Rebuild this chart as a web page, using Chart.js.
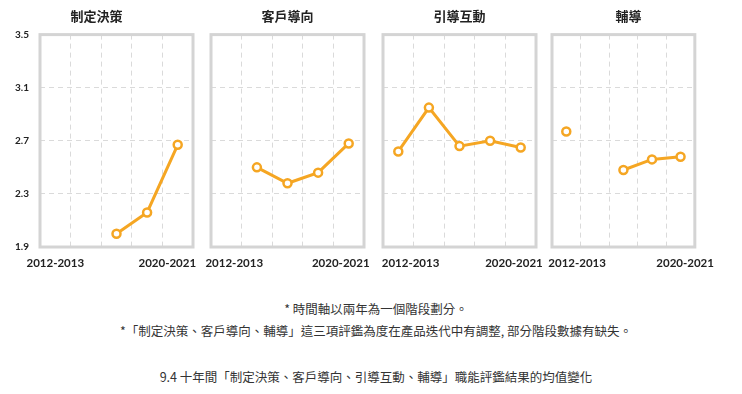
<!DOCTYPE html>
<html>
<head>
<meta charset="utf-8">
<script src="https://cdn.jsdelivr.net/npm/chart.js@4"></script>
<style>
  body { margin: 0; background: #fff; width: 742px; height: 394px; position: relative; overflow: hidden; }
  canvas { position: absolute; top: 0; }
  .note { position: absolute; left: 0; width: 752px; text-align: center; font-family: "Noto Sans CJK TC", "Noto Sans", sans-serif; font-size: 12.5px; color: #333; white-space: nowrap; }
</style>
</head>
<body>
<canvas id="c0" width="213" height="280" style="left:0px"></canvas>
<canvas id="c1" width="193" height="280" style="left:191px"></canvas>
<canvas id="c2" width="193" height="280" style="left:363px"></canvas>
<canvas id="c3" width="193" height="280" style="left:532px"></canvas>
<div class="note" style="top:299px">* 時間軸以兩年為一個階段劃分。</div>
<div class="note" style="top:321px">*「制定決策、客戶導向、輔導」這三項評鑑為度在產品迭代中有調整, 部分階段數據有缺失。</div>
<div class="note" style="top:367px">9.4 十年間「制定決策、客戶導向、引導互動、輔導」職能評鑑結果的均值變化</div>
<script>
// periods (two-year stages), only first and last are labelled
const periods = ["2012-2013", "2014-2015", "2016-2017", "2018-2019", "2020-2021"];
const titles = ["制定決策", "客戶導向", "引導互動", "輔導"];

const decisionMaking = [null, null, 2.0, 2.16, 2.67];
const customerOrientation = [null, 2.5, 2.38, 2.46, 2.68];
const guidingInteraction = [2.62, 2.95, 2.66, 2.7, 2.65];
const coaching = [2.77, null, 2.48, 2.56, 2.58];

const yTicks = [1.9, 2.3, 2.7, 3.1, 3.5];

const seriesList = [decisionMaking, customerOrientation, guidingInteraction, coaching];

// where the first / last period label sits in each panel (in column units)
const labelSpots = [[0, 3.66], [0.26, 3.74], [0.4, 3.78], [0.38, 4.16]];

const orange = "#F5A623";
const gridColor = "#dadada";

// light grey frame round the plot area
const frame = {
  id: "frame",
  beforeDatasetsDraw(chart) {
    const a = chart.chartArea;
    const ctx = chart.ctx;
    ctx.save();
    ctx.strokeStyle = "#d4d4d4";
    ctx.lineWidth = 3;
    ctx.strokeRect(a.left, a.top, a.right - a.left, a.bottom - a.top);
    ctx.restore();
  },
};

seriesList.forEach(function (values, i) {
  const first = i === 0;
  const spots = labelSpots[i];
  const ctx = document.getElementById("c" + i).getContext("2d");
  new Chart(ctx, {
    type: "line",
    data: {
      labels: periods,
      datasets: [
        {
          data: values,
          borderColor: orange,
          borderWidth: 3,
          pointRadius: 4,
          pointBorderWidth: 2.5,
          pointBackgroundColor: "#fff",
          pointBorderColor: orange,
          spanGaps: false,
          tension: 0,
        },
      ],
    },
    plugins: [frame],
    options: {
      responsive: false,
      animation: false,
      devicePixelRatio: 1,
      layout: { padding: { left: first ? 0 : 20, right: 20, top: 0, bottom: 0 } },
      plugins: {
        legend: { display: false },
        tooltip: { enabled: false },
        title: {
          display: true,
          text: titles[i],
          color: "#222",
          font: { family: "'Noto Sans CJK TC'", size: 13, weight: "bold" },
          padding: { top: 8, bottom: 11 },
        },
      },
      scales: {
        x: {
          offset: true,
          afterFit: function (s) { s.height = 0; },
          border: { display: false, dash: [5, 4] },
          grid: { offset: true, color: gridColor, drawTicks: false, lineWidth: 1 },
          ticks: { display: false },
        },
        xLabels: {
          type: "linear",
          position: "bottom",
          min: -0.5,
          max: periods.length - 0.5,
          afterFit: function (s) { s.height = 33; },
          afterBuildTicks: function (s) {
            s.ticks = spots.map(function (v) { return { value: v }; });
          },
          border: { display: false },
          grid: { display: false, drawTicks: false },
          ticks: {
            padding: 9,
            maxRotation: 0,
            autoSkip: false,
            color: "#222",
            font: { family: "Lato", size: 11.5, weight: "bold" },
            callback: function (v, idx) {
              return idx === 0 ? periods[0] : periods[periods.length - 1];
            },
          },
        },
        y: {
          min: yTicks[0],
          max: yTicks[yTicks.length - 1],
          afterFit: function (s) { s.width = first ? 40 : 0; },
          afterBuildTicks: function (s) {
            s.ticks = yTicks.map(function (v) { return { value: v }; });
          },
          border: { display: false, dash: [5, 4] },
          grid: { color: gridColor, drawTicks: false, lineWidth: 1 },
          ticks: {
            display: first,
            padding: 11,
            color: "#222",
            font: { family: "Lato", size: 10, weight: "bold" },
            callback: function (v) { return v.toFixed(1); },
          },
        },
      },
    },
  });
});
</script>
</body>
</html>
